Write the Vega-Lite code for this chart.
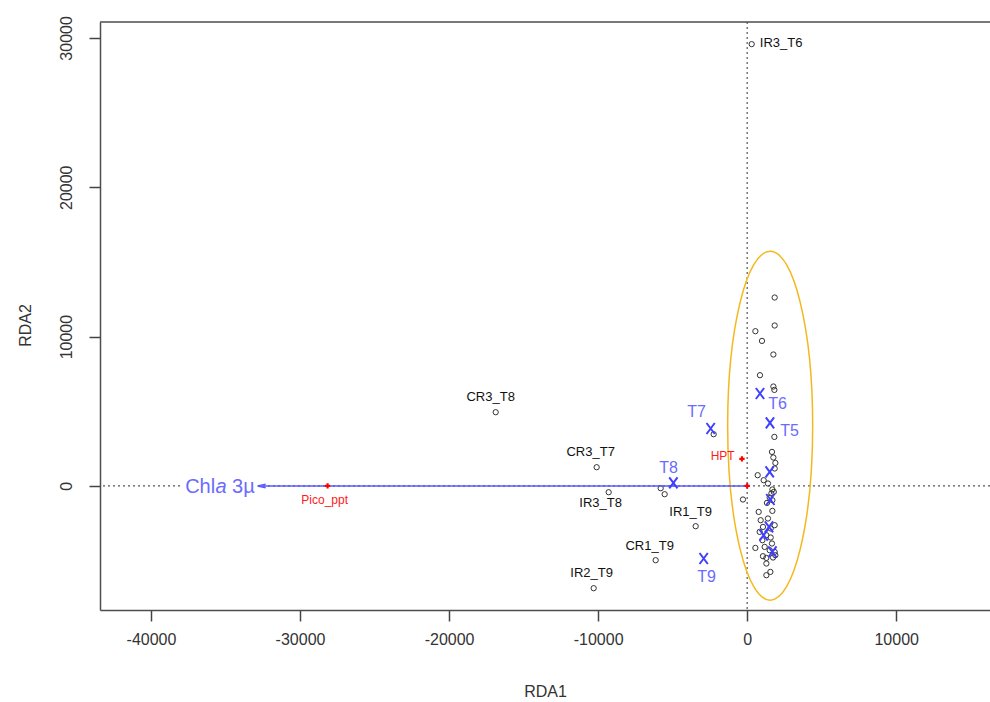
{
  "$schema": "https://vega.github.io/schema/vega-lite/v6.json",
  "width": 890,
  "height": 588,
  "autosize": {"type": "none"},
  "padding": {"left": 100, "top": 22, "right": 0, "bottom": 92},
  "background": "white",
  "config": {
    "view": {"stroke": null},
    "font": "Liberation Sans",
    "axis": {
      "grid": false,
      "labelFont": "Liberation Sans",
      "labelFontSize": 16,
      "labelColor": "#333333",
      "titleFont": "Liberation Sans",
      "titleFontSize": 16,
      "titleFontWeight": "normal",
      "titleColor": "#333333",
      "tickColor": "#444444",
      "tickWidth": 1.5,
      "tickSize": 11,
      "domainColor": "#4d4d4d",
      "domainWidth": 1.5
    }
  },
  "datasets": {
    "sites": [
      {"x": 302, "y": 29584}, {"x": -16873, "y": 4936}, {"x": -10097, "y": 1252},
      {"x": -9292, "y": -422}, {"x": -5803, "y": -154}, {"x": -5535, "y": -556},
      {"x": -3455, "y": -2699}, {"x": -6139, "y": -4975}, {"x": -10298, "y": -6850},
      {"x": -2248, "y": 3462}, {"x": -282, "y": -911},
      {"x": 1845, "y": 12616}, {"x": 1845, "y": 10741}, {"x": 550, "y": 10360},
      {"x": 993, "y": 9710}, {"x": 1758, "y": 8799}, {"x": 859, "y": 7413},
      {"x": 1758, "y": 6656}, {"x": 1825, "y": 6429}, {"x": 1825, "y": 3281},
      {"x": 1664, "y": 2277}, {"x": 1758, "y": 1902}, {"x": 1892, "y": 1540},
      {"x": 1845, "y": 1165}, {"x": 705, "y": 717}, {"x": 1107, "y": 382},
      {"x": 1396, "y": 161}, {"x": 1691, "y": -241}, {"x": 1785, "y": -402},
      {"x": 1624, "y": -509}, {"x": 1510, "y": -777}, {"x": 1691, "y": -958},
      {"x": 1328, "y": -1138}, {"x": 1691, "y": -1674}, {"x": 772, "y": -1741},
      {"x": 1396, "y": -2183}, {"x": 906, "y": -2297}, {"x": 1845, "y": -2632},
      {"x": 1060, "y": -2746}, {"x": 1577, "y": -2853}, {"x": 839, "y": -3080},
      {"x": 1288, "y": -3301}, {"x": 1577, "y": -3456}, {"x": 1020, "y": -3636},
      {"x": 1664, "y": -3857}, {"x": 1174, "y": -4085}, {"x": 550, "y": -4152},
      {"x": 1510, "y": -4306}, {"x": 1845, "y": -4420}, {"x": 1060, "y": -4708},
      {"x": 1288, "y": -4822}, {"x": 1735, "y": -4795}, {"x": 1892, "y": -4641},
      {"x": 1288, "y": -5197}, {"x": 1557, "y": -5759}, {"x": 1288, "y": -5980}
    ],
    "centroids": [
      {"x": -2449, "y": 3844, "name": "T7"}, {"x": -4951, "y": 201, "name": "T8"},
      {"x": -2918, "y": -4862, "name": "T9"}, {"x": 859, "y": 6188, "name": "T6"},
      {"x": 1530, "y": 4219, "name": "T5"}, {"x": 1510, "y": 938, "name": "T4"},
      {"x": 1557, "y": -911, "name": "T3"}, {"x": 1463, "y": -2746, "name": "T2"},
      {"x": 1107, "y": -3301, "name": "T1"}, {"x": 1691, "y": -4420, "name": "T0"}
    ],
    "labels": [
      {"x": 2281, "y": 29667, "text": "IR3_T6", "kind": "site"},
      {"x": -17209, "y": 5940, "text": "CR3_T8", "kind": "site"},
      {"x": -10500, "y": 2257, "text": "CR3_T7", "kind": "site"},
      {"x": -9829, "y": -1159, "text": "IR3_T8", "kind": "site"},
      {"x": -3791, "y": -1761, "text": "IR1_T9", "kind": "site"},
      {"x": -6541, "y": -4038, "text": "CR1_T9", "kind": "site"},
      {"x": -10432, "y": -5846, "text": "IR2_T9", "kind": "site"},
      {"x": -3388, "y": 4935, "text": "T7", "kind": "time"},
      {"x": -5267, "y": 1185, "text": "T8", "kind": "time"},
      {"x": -2717, "y": -6115, "text": "T9", "kind": "time"},
      {"x": 2046, "y": 5471, "text": "T6", "kind": "time"},
      {"x": 2851, "y": 3663, "text": "T5", "kind": "time"},
      {"x": -1644, "y": 1989, "text": "HPT", "kind": "var"},
      {"x": -28345, "y": -911, "text": "Pico_ppt", "kind": "var"}
    ],
    "vars": [
      {"x": -349, "y": 1808, "name": "HPT"},
      {"x": 0, "y": 0, "name": "origin"},
      {"x": -28150, "y": 0, "name": "Pico_ppt"}
    ],
    "arrow": [{"x": 0, "y": 0, "x2": -32573}],
    "arrowlab": [{"x": -33042, "y": 0}],
    "ellipse": [{"x": 1543, "y": 4032}],
    "refs": [{"x": 0, "y": 0, "top": 31066}]
  },
  "layer": [
    {
      "data": {"name": "refs"},
      "mark": {"type": "rule", "strokeDash": [2, 3], "color": "#555555", "strokeWidth": 1.2},
      "encoding": {"y": {"field": "y", "type": "quantitative", "scale": {"domain": [-8310, 31066], "nice": false, "zero": false},
          "axis": {"values": [0, 10000, 20000, 30000], "title": "RDA2", "labelExpr": "datum.value + ''", "labelAngle": 270, "labelAlign": "center", "labelBaseline": "bottom", "labelPadding": 15, "titleAngle": 270, "titleX": -75, "titleY": 303, "titleBaseline": "middle", "titleAlign": "center"}}}
    },
    {
      "data": {"name": "refs"},
      "mark": {"type": "rule", "strokeDash": [2, 3], "color": "#555555", "strokeWidth": 1.2},
      "encoding": {"x": {"field": "x", "type": "quantitative", "scale": {"domain": [-43420, 16292], "nice": false, "zero": false},
          "axis": {"values": [-40000, -30000, -20000, -10000, 0, 10000], "title": "RDA1", "labelExpr": "datum.value + ''", "labelPadding": 10, "titleX": 445, "titleY": 81, "titleBaseline": "middle", "titleAlign": "center"}}}
    },
    {
      "data": {"name": "refs"},
      "mark": {"type": "rule", "color": "#4d4d4d", "strokeWidth": 1.5},
      "encoding": {"y": {"field": "top", "type": "quantitative", "scale": {"domain": [-8310, 31066], "nice": false, "zero": false}}}
    },
    {
      "data": {"name": "ellipse"},
      "mark": {"type": "point", "filled": false, "stroke": "#f5b81c", "strokeWidth": 1.5, "opacity": 1, "size": 121801,
        "shape": "M0,-1C0.1345,-1 0.2436,-0.5523 0.2436,0C0.2436,0.5523 0.1345,1 0,1C-0.1345,1 -0.2436,0.5523 -0.2436,0C-0.2436,-0.5523 -0.1345,-1 0,-1Z"},
      "encoding": {
        "x": {"field": "x", "type": "quantitative", "scale": {"domain": [-43420, 16292], "nice": false, "zero": false}},
        "y": {"field": "y", "type": "quantitative", "scale": {"domain": [-8310, 31066], "nice": false, "zero": false}}
      }
    },
    {
      "data": {"name": "sites"},
      "mark": {"type": "point", "filled": false, "stroke": "#333333", "strokeWidth": 1, "size": 28, "opacity": 1},
      "encoding": {
        "x": {"field": "x", "type": "quantitative", "scale": {"domain": [-43420, 16292], "nice": false, "zero": false}},
        "y": {"field": "y", "type": "quantitative", "scale": {"domain": [-8310, 31066], "nice": false, "zero": false}}
      }
    },
    {
      "data": {"name": "arrowlab"},
      "mark": {"type": "point", "filled": true, "fill": "white", "stroke": null, "opacity": 1, "size": 5476, "xOffset": -36, "shape": "M-1,-0.3L1,-0.3L1,0.3L-1,0.3Z"},
      "encoding": {
        "x": {"field": "x", "type": "quantitative", "scale": {"domain": [-43420, 16292], "nice": false, "zero": false}},
        "y": {"field": "y", "type": "quantitative", "scale": {"domain": [-8310, 31066], "nice": false, "zero": false}}
      }
    },
    {
      "data": {"name": "arrow"},
      "mark": {"type": "rule", "color": "#5a5aff", "strokeWidth": 1.5},
      "encoding": {
        "x": {"field": "x", "type": "quantitative", "scale": {"domain": [-43420, 16292], "nice": false, "zero": false}},
        "x2": {"field": "x2"},
        "y": {"field": "y", "type": "quantitative", "scale": {"domain": [-8310, 31066], "nice": false, "zero": false}}
      }
    },
    {
      "data": {"name": "arrow"},
      "mark": {"type": "point", "filled": false, "stroke": "#5a5aff", "strokeWidth": 1.5, "opacity": 1, "size": 64, "shape": "M1,-0.45L-1,0L1,0.45"},
      "encoding": {
        "x": {"field": "x2", "type": "quantitative", "scale": {"domain": [-43420, 16292], "nice": false, "zero": false}},
        "y": {"field": "y", "type": "quantitative", "scale": {"domain": [-8310, 31066], "nice": false, "zero": false}}
      }
    },
    {
      "data": {"name": "vars"},
      "mark": {"type": "point", "shape": "cross", "filled": true, "color": "#ff0000", "size": 28, "opacity": 1},
      "encoding": {
        "x": {"field": "x", "type": "quantitative", "scale": {"domain": [-43420, 16292], "nice": false, "zero": false}},
        "y": {"field": "y", "type": "quantitative", "scale": {"domain": [-8310, 31066], "nice": false, "zero": false}}
      }
    },
    {
      "data": {"name": "centroids"},
      "mark": {"type": "point", "filled": false, "stroke": "#3f3fff", "strokeWidth": 2, "opacity": 1, "size": 121, "shape": "M-0.75,-1L0.75,1M-0.75,1L0.75,-1"},
      "encoding": {
        "x": {"field": "x", "type": "quantitative", "scale": {"domain": [-43420, 16292], "nice": false, "zero": false}},
        "y": {"field": "y", "type": "quantitative", "scale": {"domain": [-8310, 31066], "nice": false, "zero": false}}
      }
    },
    {
      "data": {"name": "labels"},
      "transform": [{"filter": "datum.kind === 'site'"}],
      "mark": {"type": "text", "font": "Liberation Sans", "fontSize": 13, "color": "#111111", "align": "center", "baseline": "middle"},
      "encoding": {
        "x": {"field": "x", "type": "quantitative", "scale": {"domain": [-43420, 16292], "nice": false, "zero": false}},
        "y": {"field": "y", "type": "quantitative", "scale": {"domain": [-8310, 31066], "nice": false, "zero": false}},
        "text": {"field": "text"}
      }
    },
    {
      "data": {"name": "labels"},
      "transform": [{"filter": "datum.kind === 'time'"}],
      "mark": {"type": "text", "font": "Liberation Sans", "fontSize": 16, "color": "#6b6bff", "align": "center", "baseline": "middle"},
      "encoding": {
        "x": {"field": "x", "type": "quantitative", "scale": {"domain": [-43420, 16292], "nice": false, "zero": false}},
        "y": {"field": "y", "type": "quantitative", "scale": {"domain": [-8310, 31066], "nice": false, "zero": false}},
        "text": {"field": "text"}
      }
    },
    {
      "data": {"name": "labels"},
      "transform": [{"filter": "datum.kind === 'var'"}],
      "mark": {"type": "text", "font": "Liberation Sans", "fontSize": 12, "color": "#ff1a1a", "align": "center", "baseline": "middle"},
      "encoding": {
        "x": {"field": "x", "type": "quantitative", "scale": {"domain": [-43420, 16292], "nice": false, "zero": false}},
        "y": {"field": "y", "type": "quantitative", "scale": {"domain": [-8310, 31066], "nice": false, "zero": false}},
        "text": {"field": "text"}
      }
    },
    {
      "data": {"name": "arrowlab"},
      "mark": {"type": "text", "text": "3µ", "font": "Liberation Sans", "fontSize": 20, "color": "#6b6bff", "align": "right", "baseline": "middle", "dy": 1},
      "encoding": {
        "x": {"field": "x", "type": "quantitative", "scale": {"domain": [-43420, 16292], "nice": false, "zero": false}},
        "y": {"field": "y", "type": "quantitative", "scale": {"domain": [-8310, 31066], "nice": false, "zero": false}}
      }
    },
    {
      "data": {"name": "arrowlab"},
      "mark": {"type": "text", "text": "a", "font": "Liberation Sans", "fontStyle": "italic", "fontSize": 20, "color": "#6b6bff", "align": "right", "baseline": "middle", "dx": -28, "dy": 1},
      "encoding": {
        "x": {"field": "x", "type": "quantitative", "scale": {"domain": [-43420, 16292], "nice": false, "zero": false}},
        "y": {"field": "y", "type": "quantitative", "scale": {"domain": [-8310, 31066], "nice": false, "zero": false}}
      }
    },
    {
      "data": {"name": "arrowlab"},
      "mark": {"type": "text", "text": "Chl", "font": "Liberation Sans", "fontSize": 20, "color": "#6b6bff", "align": "right", "baseline": "middle", "dx": -39.5, "dy": 1},
      "encoding": {
        "x": {"field": "x", "type": "quantitative", "scale": {"domain": [-43420, 16292], "nice": false, "zero": false}},
        "y": {"field": "y", "type": "quantitative", "scale": {"domain": [-8310, 31066], "nice": false, "zero": false}}
      }
    }
  ]
}
